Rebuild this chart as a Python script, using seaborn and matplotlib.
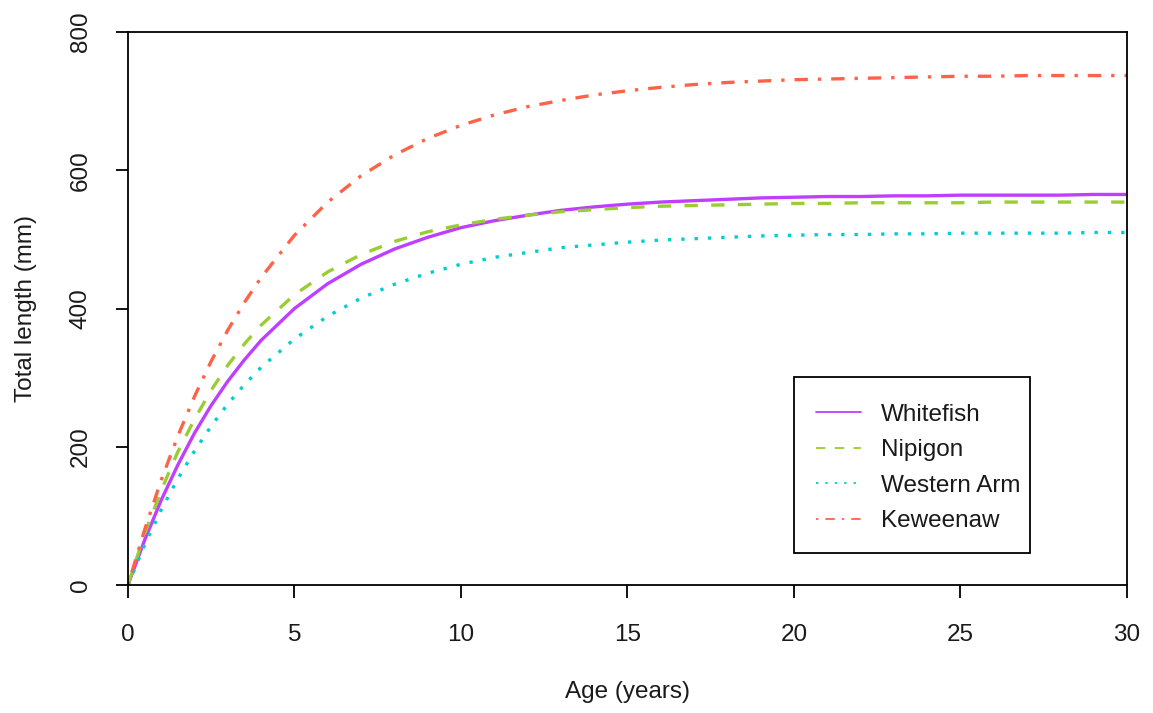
import numpy as np
import pandas as pd
import matplotlib
matplotlib.use("Agg")
import matplotlib.pyplot as plt
import seaborn as sns
from matplotlib.lines import Line2D
from matplotlib.patches import Rectangle

ages = [0, 0.5, 1, 1.5, 2, 2.5, 3, 3.5, 4, 5, 6, 7, 8, 9, 10, 11, 12, 13, 14,
        15, 16, 17, 18, 19, 20, 21, 22, 23, 24, 25, 26, 27, 28, 29, 30]
whitefish = [0, 65, 123, 174, 220, 260, 295, 326, 354, 400, 436, 464, 486, 503, 517, 527, 535, 542, 547,
             551, 554, 556, 558, 560, 561, 562, 562, 563, 563, 564, 564, 564, 564, 565, 565]
nipigon = [0, 74, 137, 193, 240, 282, 318, 349, 376, 420, 453, 478, 497, 511, 521, 529, 535, 540, 543,
           546, 548, 549, 550, 551, 552, 552, 553, 553, 553, 553, 554, 554, 554, 554, 554]
western_arm = [0, 58, 109, 154, 194, 230, 262, 290, 315, 356, 389, 415, 435, 451, 464, 474, 481, 488, 492,
               496, 499, 501, 503, 505, 506, 507, 507, 508, 508, 509, 509, 509, 509, 510, 510]
keweenaw = [0, 80, 152, 216, 273, 324, 369, 409, 445, 506, 554, 592, 622, 646, 665, 680, 692, 701, 709,
            715, 720, 724, 727, 729, 731, 732, 733, 734, 735, 736, 736, 737, 737, 737, 737]

series_names = ["Whitefish", "Nipigon", "Western Arm", "Keweenaw"]
series_values = [whitefish, nipigon, western_arm, keweenaw]
colors = {"Whitefish": "#BF3EFF", "Nipigon": "#9ACD32",
          "Western Arm": "#00CED1", "Keweenaw": "#FF6347"}
dash_map = {"Whitefish": "", "Nipigon": (4, 4),
            "Western Arm": (1, 3), "Keweenaw": (1, 3, 4, 3)}

df = pd.concat([pd.DataFrame({"Age": ages, "Length": v, "Group": n})
                for n, v in zip(series_names, series_values)], ignore_index=True)

sns.set_theme(style="ticks")
plt.rcParams["font.family"] = ["Liberation Sans", "DejaVu Sans"]

fig = plt.figure(figsize=(11.53, 7.13), dpi=100)
ax = fig.add_axes([0.111, 0.1795, 0.8664, 0.7756])

sns.lineplot(data=df, x="Age", y="Length", hue="Group", style="Group",
             hue_order=series_names, style_order=series_names,
             palette=colors, dashes=dash_map, linewidth=2.4, ax=ax, legend=False)

ax.set_xlim(0, 30)
ax.set_ylim(0, 800)
ax.set_xticks([0, 5, 10, 15, 20, 25, 30])
ax.set_yticks([0, 200, 400, 600, 800])
fs = 17.5
ax.tick_params(axis="both", direction="out", length=9, width=1.3, color="black",
               labelsize=fs, labelcolor="#1a1a1a")
ax.tick_params(axis="x", pad=19)
ax.tick_params(axis="y", pad=17)
for lab in ax.get_yticklabels():
    lab.set_rotation(90)
    lab.set_va("center")
for s in ax.spines.values():
    s.set_visible(True)
    s.set_linewidth(1.3)
    s.set_color("black")
ax.set_xlabel("Age (years)", fontsize=fs, color="#1a1a1a", labelpad=25)
ax.set_ylabel("Total length (mm)", fontsize=fs, color="#1a1a1a", labelpad=24)

handles = []
for n in series_names:
    h = Line2D([0], [0], color=colors[n], lw=1.3)
    if dash_map[n] == "":
        h.set_linestyle("-")
    else:
        h.set_dashes([d * 1.3 for d in dash_map[n]])
    handles.append(h)
leg = ax.legend(handles, series_names, loc="upper left", bbox_to_anchor=(0.667, 0.367),
                borderaxespad=0, fontsize=fs, frameon=False,
                handlelength=1.85, handletextpad=0.8,
                borderpad=0.9, labelspacing=0.55)
for t in leg.get_texts():
    t.set_color("#1a1a1a")
ax.add_patch(Rectangle((0.6667, 0.0579), 0.9029 - 0.6667, 0.3761 - 0.0579,
                       transform=ax.transAxes, fill=False, edgecolor="black",
                       linewidth=1.3, zorder=5))

fig.savefig("out.png", dpi=100, facecolor="white")
